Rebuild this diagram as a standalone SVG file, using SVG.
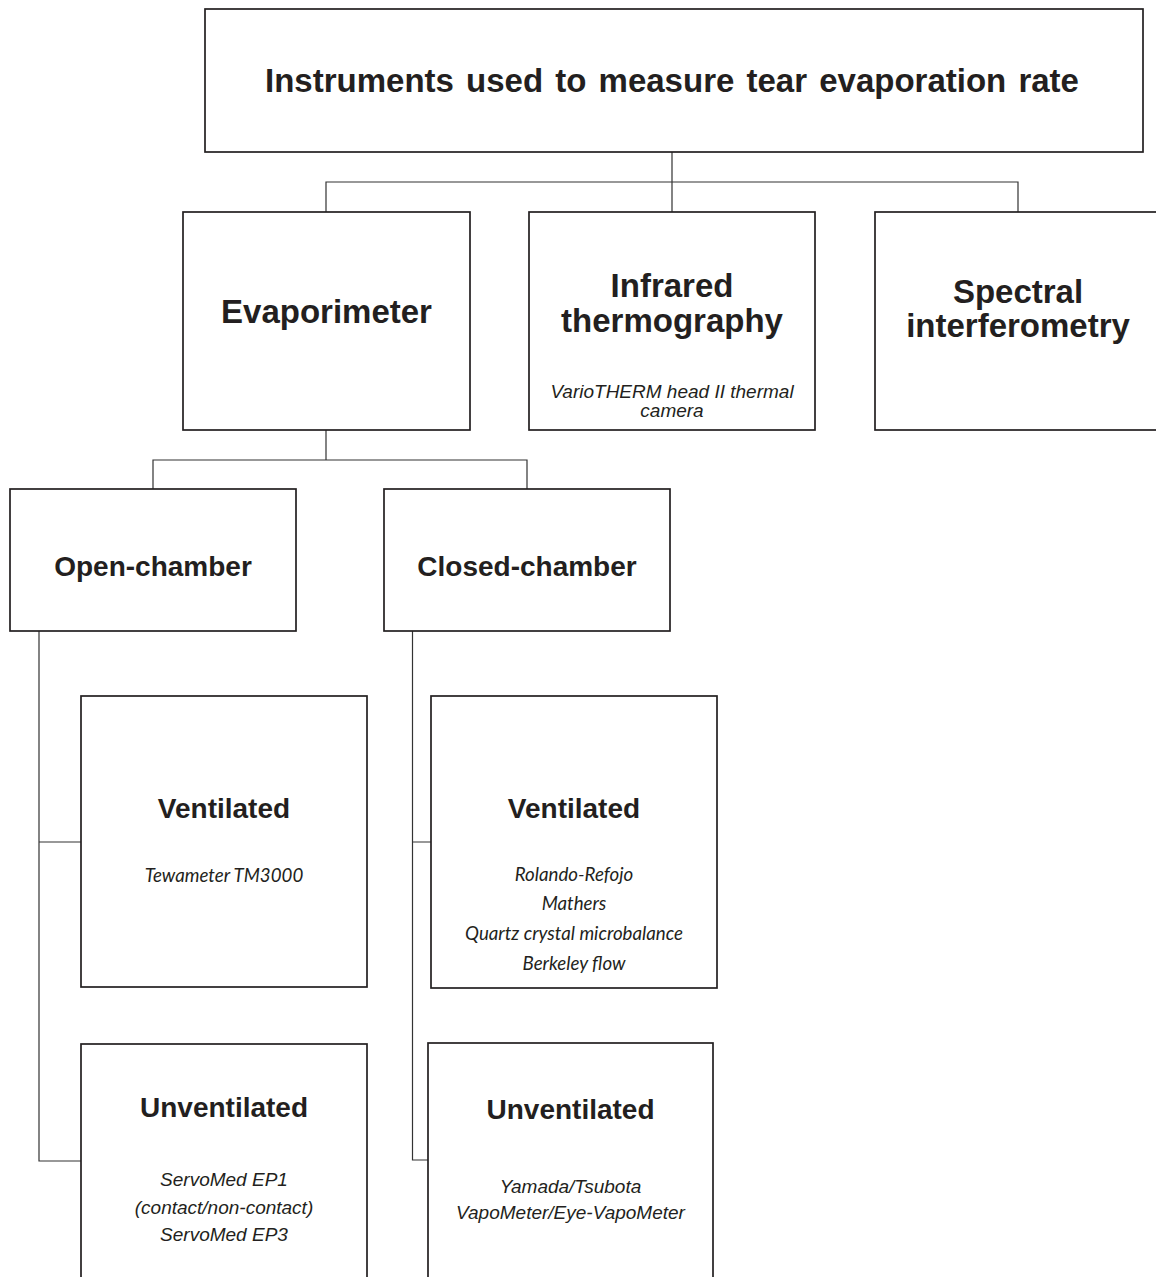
<svg xmlns="http://www.w3.org/2000/svg" width="1156" height="1277" viewBox="0 0 1156 1277">
<style>
.box{fill:#fff;stroke:#231f20;stroke-width:1.7}
.con{fill:none;stroke:#333;stroke-width:1.2}
.b{font-family:"Liberation Sans",Arial,sans-serif;font-weight:bold;fill:#231f20;text-anchor:middle}
.i{font-family:"Liberation Sans",Arial,sans-serif;font-style:italic;fill:#231f20;text-anchor:middle;font-size:19px}
.c{font-family:Lato,"Liberation Sans",sans-serif;font-style:italic;fill:#231f20;text-anchor:middle;font-size:18.7px}
</style>
<rect width="1156" height="1277" fill="#fff"/>
<g id="connectors">
<path class="con" d="M672 152V212M326 212V182H1018V212"/>
<path class="con" d="M326 430V460M153 489V460H527V489"/>
<path class="con" d="M39 631V1161H81M39 842H81"/>
<path class="con" d="M412.5 631V1160H428M412.5 842H431"/>
</g>
<g id="root">
<rect class="box" x="205" y="9" width="938" height="143"/>
<text class="b" x="672" y="92" font-size="33" word-spacing="3">Instruments used to measure tear evaporation rate</text>
</g>
<g id="evaporimeter">
<rect class="box" x="183" y="212" width="287" height="218"/>
<text class="b" x="326.5" y="323" font-size="33">Evaporimeter</text>
</g>
<g id="infrared">
<rect class="box" x="529" y="212" width="286" height="218"/>
<text class="b" x="672" y="297" font-size="33">Infrared</text>
<text class="b" x="672" y="332" font-size="33">thermography</text>
<text class="i" x="672" y="398">VarioTHERM head II thermal</text>
<text class="i" x="672" y="417">camera</text>
</g>
<g id="spectral">
<rect class="box" x="875" y="212" width="286" height="218"/>
<text class="b" x="1018" y="303" font-size="33">Spectral</text>
<text class="b" x="1018" y="337" font-size="33">interferometry</text>
</g>
<g id="open-chamber">
<rect class="box" x="10" y="489" width="286" height="142"/>
<text class="b" x="153" y="576" font-size="28">Open-chamber</text>
</g>
<g id="closed-chamber">
<rect class="box" x="384" y="489" width="286" height="142"/>
<text class="b" x="527" y="576" font-size="28">Closed-chamber</text>
</g>
<g id="open-ventilated">
<rect class="box" x="81" y="696" width="286" height="291"/>
<text class="b" x="224" y="818" font-size="28">Ventilated</text>
<text class="c" x="224" y="882">Tewameter TM3000</text>
</g>
<g id="open-unventilated">
<rect class="box" x="81" y="1044" width="286" height="260"/>
<text class="b" x="224" y="1117" font-size="28">Unventilated</text>
<text class="i" x="224" y="1186">ServoMed EP1</text>
<text class="i" x="224" y="1214">(contact/non-contact)</text>
<text class="i" x="224" y="1241">ServoMed EP3</text>
</g>
<g id="closed-ventilated">
<rect class="box" x="431" y="696" width="286" height="292"/>
<text class="b" x="574" y="818" font-size="28">Ventilated</text>
<text class="c" x="574" y="881">Rolando-Refojo</text>
<text class="c" x="574" y="910">Mathers</text>
<text class="c" x="574" y="940">Quartz crystal microbalance</text>
<text class="c" x="574" y="970">Berkeley flow</text>
</g>
<g id="closed-unventilated">
<rect class="box" x="428" y="1043" width="285" height="260"/>
<text class="b" x="570.5" y="1119" font-size="28">Unventilated</text>
<text class="i" x="570.5" y="1193">Yamada/Tsubota</text>
<text class="i" x="570.5" y="1219">VapoMeter/Eye-VapoMeter</text>
</g>
</svg>
